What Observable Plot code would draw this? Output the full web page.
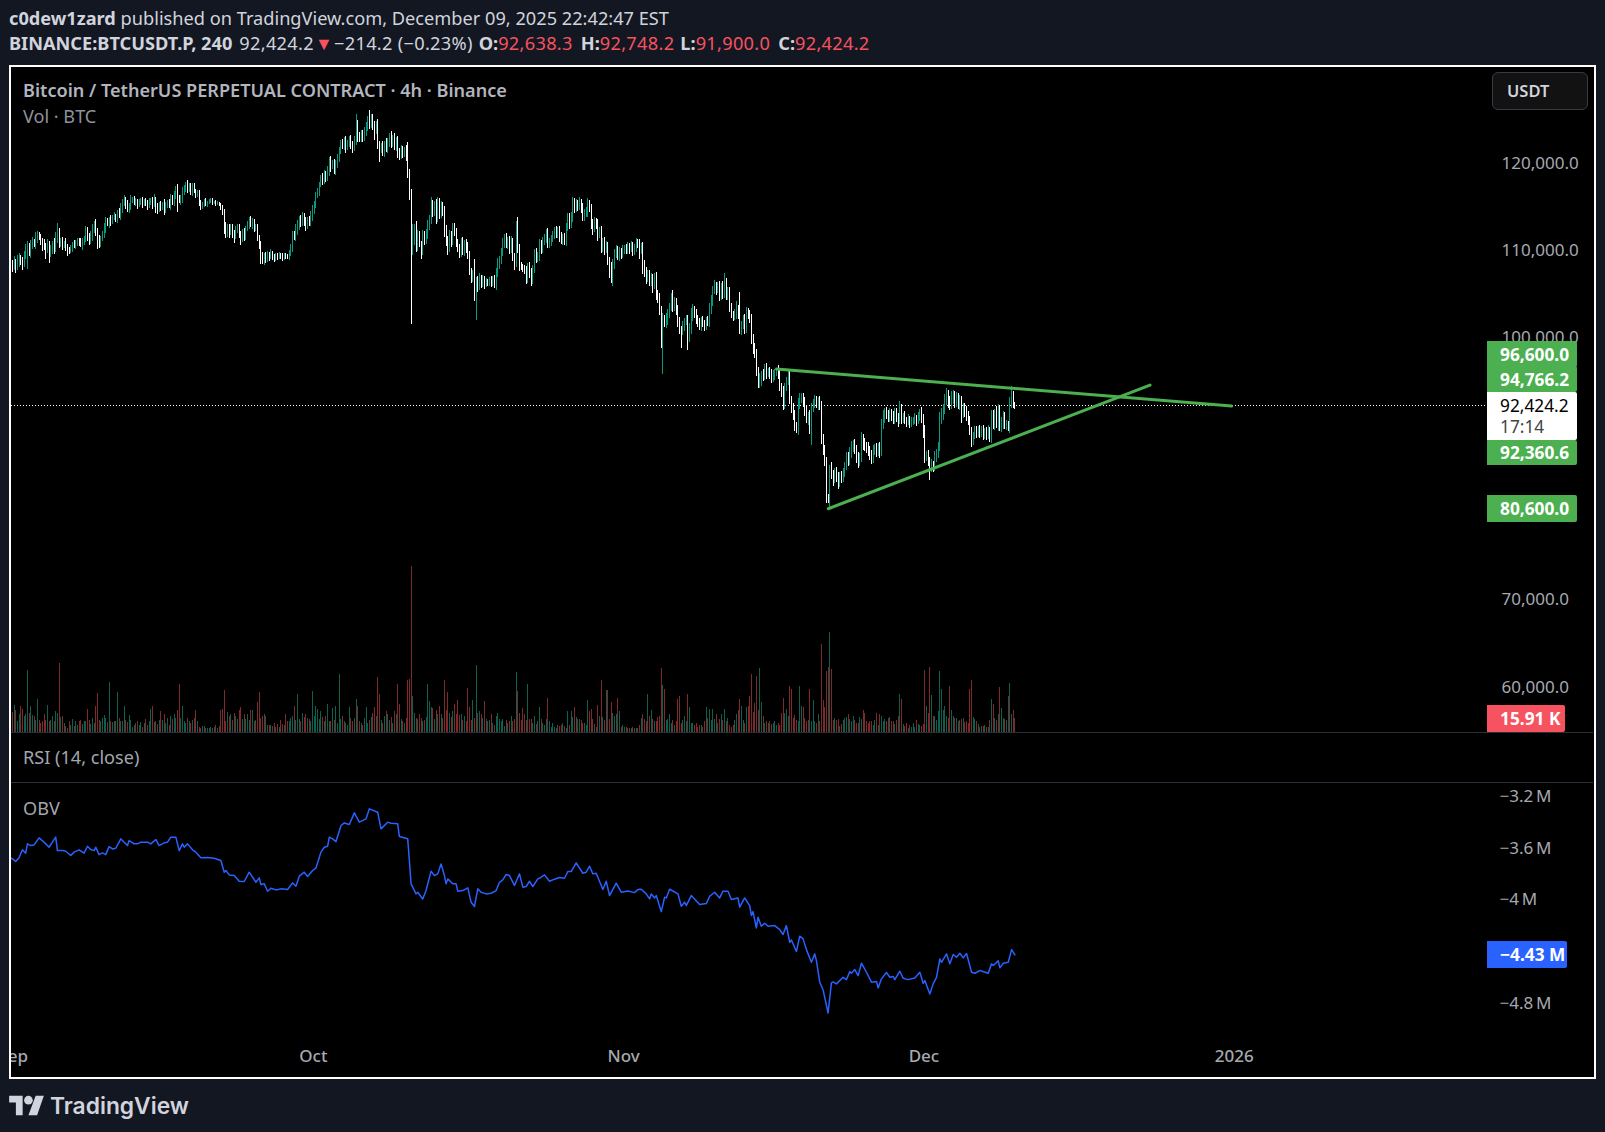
<!DOCTYPE html>
<html><head><meta charset="utf-8">
<script src="https://cdn.jsdelivr.net/npm/d3@7"></script>
<script src="https://cdn.jsdelivr.net/npm/@observablehq/plot@0.6"></script>
<style>
html,body{margin:0;padding:0;background:#131722}
#page{position:relative;width:1605px;height:1132px;background:#131722;overflow:hidden;font-family:"Noto Sans",sans-serif;color:#d1d4dc}
.abs{position:absolute;white-space:nowrap}
#frame{left:9px;top:65px;width:1583px;height:1010px;border:2px solid #fff;background:#000}
.pl{position:absolute;left:11px}
.pl svg,svg.pl{display:block;background:transparent}
.line{font-size:18.2px;left:9px;line-height:24px}
.line b{font-weight:700}
.r{color:#f7525f}
.n{letter-spacing:.3px}
.ttl{left:23px;font-size:18.1px;color:#b2b5be}
.tag{position:absolute;left:1487px;font-weight:700;font-size:17.3px;color:#fff;padding-left:13px;box-sizing:border-box;display:flex;align-items:center;border-radius:0 2px 2px 0}
.div{position:absolute;left:11px;width:1582px;height:1px;background:#2a2e39}
</style></head><body>
<div id="page">
<div class="abs line" style="top:6px"><b>c0dew1zard</b> published on TradingView.com, December 09, 2025 22:42:47 EST</div>
<div class="abs line n" style="top:31px"><b style="letter-spacing:0">BINANCE:BTCUSDT.P, 240</b><span style="margin-left:7px">92,424.2</span><span class="r" style="font-size:18px;line-height:18px;margin:0 1px 0 1px">▼</span>−214.2 (−0.23%)<b style="margin-left:6px;letter-spacing:0">O:</b><span class="r">92,638.3</span><b style="margin-left:8px;letter-spacing:0">H:</b><span class="r">92,748.2</span><b style="margin-left:6px;letter-spacing:0">L:</b><span class="r">91,900.0</span><b style="margin-left:8px;letter-spacing:0">C:</b><span class="r">92,424.2</span></div>
<div class="abs" id="frame"></div>
<div id="volHost"></div><div id="priceHost"></div><div id="obvHost"></div>
<div class="div" style="top:732px"></div><div class="div" style="top:782px"></div>
<div class="abs ttl" style="top:78px;font-weight:600">Bitcoin / TetherUS PERPETUAL CONTRACT · 4h · Binance</div>
<div class="abs ttl" style="top:104px;color:#8f929a">Vol · BTC</div>
<div class="abs ttl" style="top:745px;color:#a3a6ae">RSI (14, close)</div>
<div class="abs ttl" style="top:796px;color:#a3a6ae">OBV</div>
<div class="abs" style="left:1492px;top:72px;width:96px;height:38px;box-sizing:border-box;border:1px solid #363a45;border-radius:6px;background:#121212;font-size:16.5px;font-weight:600;line-height:36px;padding-left:14px">USDT</div>
<div class="tag" style="top:341px;height:26px;width:90px;background:#4caf50">96,600.0</div>
<div class="tag" style="top:366px;height:26px;width:90px;background:#4caf50">94,766.2</div>
<div class="tag" style="top:440px;height:25px;width:90px;background:#4caf50">92,360.6</div>
<div class="tag" style="top:392px;height:48px;width:90px;background:#fff;color:#000;font-weight:400;display:block;line-height:21px;padding-top:3px">92,424.2<br><span style="color:#444">17:14</span></div>
<div class="tag" style="top:495px;height:27px;width:90px;background:#4caf50">80,600.0</div>
<div class="tag" style="top:705px;height:27px;width:78px;background:#f7525f">15.91 K</div>
<div class="tag" style="top:941px;height:27px;width:80px;background:#2962ff">−4.43 M</div>
<div class="abs" style="left:9px;top:1092px;display:flex;align-items:center;gap:6px;color:#d1d4dc;font-family:Inter,'Noto Sans',sans-serif;font-weight:600;font-size:22.8px">
<svg width="35" height="27" viewBox="0 0 36 28" fill="#d1d4dc"><path d="M14 24H7V11H0V4h14v20zM29 24h-9l7.5-20h8.5L29 24z"/><circle cx="20" cy="8.5" r="4.5"/></svg><span>TradingView</span></div>
</div>
<script>
// closing price per 4h bar, thousand USD
const closes=[
108.6,108.2,108.9,108.3,108.8,109.3,109.0,108.6,109.4,110.0,
110.2,109.9,110.8,111.1,110.9,111.5,112.0,111.7,111.3,110.9,
110.7,110.2,110.8,109.9,110.3,110.9,110.5,111.4,112.3,111.0,
111.3,110.8,111.0,110.6,110.3,110.1,110.5,110.9,110.7,111.0,
111.3,111.1,110.8,111.2,111.6,112.3,111.8,111.4,112.0,112.6,
112.9,112.4,111.5,111.0,111.6,111.9,112.6,113.5,113.2,113.7,
113.5,113.9,114.1,113.8,114.5,114.2,114.9,115.6,116.0,115.5,
114.9,115.3,115.9,116.1,115.6,115.8,115.4,115.7,115.9,115.5,
115.8,115.6,115.3,115.7,115.9,115.5,116.0,115.2,114.9,115.4,
115.1,115.5,114.9,115.4,115.7,115.3,116.1,115.9,116.6,116.9,
116.3,115.8,116.1,116.9,117.3,117.7,117.1,117.6,116.9,117.5,
117.0,116.5,116.7,115.6,115.2,115.5,115.8,115.4,115.6,115.8,
115.9,115.6,115.7,115.5,115.6,115.4,115.1,114.6,112.9,112.2,
112.6,112.3,112.8,112.1,111.8,112.4,112.8,112.1,111.6,112.2,
111.8,112.6,113.1,113.6,113.2,113.4,112.7,112.9,111.7,110.9,
109.4,109.1,109.5,109.2,109.7,109.4,109.8,109.5,109.2,109.6,
109.3,109.6,109.5,109.2,109.6,109.4,109.3,109.9,110.4,112.0,
111.8,112.3,113.0,113.8,113.4,114.0,113.6,113.2,113.7,113.4,
114.1,114.7,115.5,116.5,116.9,117.8,118.5,118.2,118.9,118.6,
119.3,120.4,119.8,120.2,119.5,120.1,120.9,121.6,122.5,122.2,
122.6,122.1,122.4,122.9,122.3,122.0,122.6,123.9,123.3,123.0,
123.5,123.1,123.7,124.2,125.0,124.6,125.2,124.5,124.0,124.4,
122.3,121.7,122.0,121.4,122.2,121.8,122.5,123.2,122.6,122.9,
122.1,122.6,121.5,121.1,121.7,121.2,121.6,121.1,119.3,117.0,
109.9,111.2,112.7,110.6,111.9,110.9,109.9,111.9,111.3,112.0,
113.0,113.4,115.3,114.6,115.3,113.9,115.6,114.3,115.2,114.5,
112.6,111.2,110.4,111.9,111.1,112.8,112.2,111.0,110.4,109.9,
110.9,110.2,110.8,110.4,109.6,107.7,106.9,107.6,104.6,106.8,
106.2,107.0,106.3,106.9,106.2,106.6,106.4,106.8,106.3,106.9,
106.2,107.6,108.6,109.0,110.0,111.0,111.5,110.8,111.3,110.3,
111.2,109.3,108.4,113.0,110.5,108.3,108.2,108.0,107.9,106.9,
108.2,107.6,106.7,108.0,109.8,109.2,109.5,110.9,110.2,111.2,
111.4,112.2,110.9,111.0,111.5,111.9,112.4,112.0,112.4,111.6,
111.3,111.5,111.2,112.8,113.8,113.2,114.0,115.6,114.9,115.4,
115.1,115.6,115.0,114.0,114.4,114.6,115.3,115.0,113.2,112.7,
113.4,113.2,111.9,112.4,110.4,111.1,110.2,110.6,109.0,107.6,
106.5,108.6,109.8,110.0,109.4,110.0,109.7,110.2,110.4,110.1,
110.6,110.2,110.6,110.0,110.5,111.1,110.9,110.0,110.6,108.0,
107.6,106.9,107.4,106.6,106.9,106.1,107.1,104.9,104.6,103.3,
99.2,102.2,101.9,102.4,103.0,103.6,104.6,103.7,104.2,103.3,
102.0,101.0,100.9,101.5,102.0,102.1,100.1,101.0,102.6,103.3,
102.9,102.3,101.8,101.5,102.0,101.7,101.4,102.0,101.8,103.4,
104.2,105.6,106.0,105.6,106.1,104.9,106.0,105.2,106.4,105.0,
105.4,103.7,102.8,102.6,102.9,103.4,103.0,101.0,101.6,102.1,
101.3,103.0,102.7,102.3,100.0,98.7,98.3,96.4,94.9,95.5,
95.8,95.7,96.6,96.0,96.3,95.9,95.5,95.9,96.2,96.5,
95.9,94.5,93.8,92.5,94.4,95.2,95.7,92.9,92.1,91.2,
90.0,89.5,92.6,93.0,93.3,92.7,91.8,90.8,91.1,89.9,
92.0,92.6,93.0,92.5,92.8,92.4,88.5,87.3,85.9,81.5,
81.4,85.3,84.5,84.0,84.8,84.2,83.5,84.4,84.1,84.8,
85.5,86.5,86.1,87.0,87.5,87.9,87.4,86.6,85.9,86.4,
88.5,88.0,87.7,87.5,87.1,86.8,86.3,87.3,87.6,87.2,
87.7,87.0,90.2,91.0,91.6,91.4,91.0,91.6,91.2,90.8,
91.5,91.0,90.6,92.0,90.9,91.1,90.6,90.5,90.9,90.3,
90.6,90.7,90.9,90.6,91.1,91.4,90.9,89.5,86.5,86.7,
86.0,85.4,85.5,85.4,86.4,86.9,87.8,91.0,91.5,92.0,
92.9,93.5,92.9,92.6,93.2,93.5,92.7,93.2,92.5,92.9,
91.4,92.2,91.7,91.3,90.6,89.5,88.4,89.0,89.6,89.3,
89.7,89.3,89.6,89.0,89.5,89.0,89.6,88.9,91.2,90.3,
91.5,90.4,91.9,89.9,90.5,91.3,90.2,90.3,89.9,92.7,
94.0,92.64,92.42];
// wick above the body, hundred USD
const upperWicks=[
5,4,6,3,8,5,3,4,7,9,10,8,5,6,3,7,4,2,3,2,5,3,6,4,5,3,6,8,10,4,
3,4,2,5,3,2,3,2,4,3,2,3,4,3,2,6,5,3,4,5,6,8,3,4,2,5,7,4,3,2,
5,3,4,2,3,5,6,4,5,3,4,3,6,2,3,3,2,3,2,4,2,3,3,4,2,3,6,2,3,3,
4,2,5,3,2,3,5,4,3,6,8,2,4,5,3,3,5,2,3,3,3,2,3,4,3,2,2,3,2,2,
2,2,1,2,2,1,2,2,3,5,6,5,4,3,4,5,4,3,2,4,5,3,4,4,5,4,3,2,3,2,
3,6,3,4,4,3,5,3,2,2,2,3,2,3,2,2,3,3,5,3,4,8,6,3,4,5,4,3,3,4,
5,6,3,3,4,2,3,5,4,3,5,4,5,3,4,4,3,4,3,4,5,6,4,3,5,4,6,19,12,4,
4,4,6,6,5,12,6,5,4,6,8,3,4,6,5,8,5,4,6,5,7,5,6,4,5,4,4,6,14,2,
2,20,5,8,6,5,3,6,4,6,6,8,9,6,5,7,6,5,6,5,7,4,6,6,5,5,5,5,4,5,
6,8,5,6,7,5,4,3,16,3,4,5,3,4,3,4,3,3,4,3,4,5,7,5,4,6,5,6,4,5,
6,4,5,5,10,4,5,4,5,4,5,6,5,4,5,6,4,5,4,5,6,4,5,5,4,4,4,5,4,5,
6,5,6,5,6,6,5,7,5,6,5,6,4,6,5,5,8,6,4,5,6,4,5,4,5,5,6,6,5,4,
12,6,5,8,6,5,4,5,3,5,5,4,6,5,4,5,3,5,4,5,10,6,5,5,6,5,4,6,7,6,
5,8,5,6,4,5,6,10,6,5,6,5,5,5,4,6,6,8,9,7,5,5,4,6,5,6,5,5,6,7,
8,5,7,5,4,5,4,6,11,6,5,5,4,4,5,9,5,24,5,6,8,6,5,6,5,6,8,5,4,6,
5,7,5,6,4,5,6,5,4,2,5,6,4,8,6,4,7,8,5,6,6,5,6,8,5,5,6,5,5,7,
6,5,6,5,5,6,5,6,5,6,7,3,6,5,4,5,6,4,5,4,4,5,5,6,8,5,6,5,4,5,
8,6,7,5,7,6,5,5,4,5,4,5,6,8,5,6,5,5,4,5,6,6,5,9,5,4,6,4,5,3,
4,4,6,4,5,6,8,5,6,5,6,5,7,5,8,5,4,6,6,5,8,9,7,6,8,6,5,7,6,7,
6,5,5,6,4,6,4,3,4,4,3,4,4,5,3,4,5,3,7,6,5,8,6,5,6,4,3,4,3,6,
6,0,1];
// wick below the body, hundred USD
const lowerWicks=[
4,6,3,8,4,6,5,7,4,3,20,4,6,5,4,6,5,4,6,8,5,10,4,12,5,6,8,5,4,6,
5,6,4,5,8,4,3,5,3,4,4,5,3,6,4,5,6,7,5,8,5,6,12,6,5,4,4,5,3,5,
6,4,3,4,5,4,6,5,4,6,4,5,6,4,3,4,5,3,4,5,3,4,5,3,4,6,4,8,6,4,
5,3,7,5,4,3,5,6,7,6,18,3,5,6,4,5,4,3,4,5,3,4,3,4,5,3,4,2,3,2,
2,3,2,3,2,2,3,4,9,6,5,7,4,6,8,4,3,6,9,5,6,5,3,5,4,6,5,4,5,6,
8,5,6,5,4,5,3,5,4,3,3,2,3,3,2,3,2,3,4,5,5,6,4,5,6,5,7,8,6,5,
5,6,4,5,4,5,4,6,5,6,5,6,7,4,6,7,5,6,4,5,6,8,5,4,6,7,5,4,8,5,
5,6,4,5,4,6,4,6,12,5,6,15,4,5,6,4,5,5,7,6,5,6,8,6,5,5,4,7,9,11,
82,3,5,6,5,4,7,3,5,4,6,5,3,6,5,8,5,6,5,4,9,6,8,5,6,4,4,5,5,6,
5,6,7,6,5,4,5,4,3,24,8,6,5,4,5,3,4,3,4,3,4,6,5,6,4,5,6,4,5,6,
5,4,5,2,7,5,3,4,5,6,5,6,7,4,5,5,4,6,5,4,5,4,5,5,4,4,5,4,4,5,
4,5,4,6,5,6,5,6,5,4,5,4,6,5,5,4,6,5,6,8,5,6,7,4,6,5,6,4,5,6,
1,5,6,5,4,5,6,4,5,4,4,5,3,5,4,6,5,8,3,6,5,6,4,5,6,8,4,5,5,6,
2,32,5,7,8,6,4,6,5,6,6,5,20,5,6,4,14,5,5,6,5,6,4,5,6,4,5,4,3,5,
5,4,5,6,4,6,5,6,5,5,5,6,4,5,4,6,7,4,6,5,8,6,4,5,6,4,5,6,5,5,
9,5,4,6,4,5,5,4,6,5,5,5,5,7,5,4,5,4,6,5,6,3,5,6,4,5,6,4,7,8,
20,4,5,4,6,5,5,6,5,3,2,8,6,9,5,6,7,5,6,5,6,5,7,5,6,5,6,8,7,5,
5,7,5,6,5,7,6,5,6,7,6,6,4,5,6,6,5,5,6,5,6,5,7,3,6,5,4,6,4,5,
4,5,4,6,4,5,5,8,7,5,6,16,6,7,5,5,6,6,7,8,6,5,8,7,6,7,6,5,5,6,
10,5,6,7,5,5,8,6,5,6,5,6,5,6,5,6,5,7,8,6,7,6,9,5,6,8,5,6,4,7,
6,6,5];
// volume per bar, thousand BTC
const volumes=[
13,23,31,25,13,20,29,26,18,20,70,22,30,19,18,14,38,14,10,12,
20,14,31,12,14,18,13,24,22,78,17,18,10,7,5,12,8,15,7,12,
8,12,14,9,13,12,26,14,9,16,10,29,44,14,12,16,19,16,11,57,
12,11,12,12,45,16,12,13,29,14,11,19,14,6,8,10,12,8,11,6,
10,15,8,12,26,30,11,13,9,14,24,14,20,10,16,8,18,15,21,16,
25,54,16,29,12,10,16,13,10,14,16,25,12,6,5,7,7,5,5,4,
6,5,6,8,5,7,25,26,48,13,23,18,20,14,22,18,15,25,28,15,
21,15,20,14,25,25,12,14,34,45,16,18,20,18,8,8,8,7,10,6,
9,6,14,9,8,20,12,12,16,18,30,14,43,15,12,22,17,20,16,15,
12,47,18,30,26,15,24,17,12,18,32,12,12,27,14,30,10,66,15,18,
12,10,8,28,16,12,16,38,30,12,10,8,16,28,10,14,17,22,28,18,
63,43,14,10,18,24,20,14,17,10,24,20,55,32,15,12,10,16,59,60,
189,41,22,16,15,20,16,12,14,17,54,35,28,27,15,25,20,30,20,16,
59,25,45,22,17,24,32,20,36,19,20,14,18,12,50,28,14,36,16,76,
22,24,20,16,35,15,12,14,20,10,8,18,22,15,12,15,7,14,10,12,
18,12,15,68,47,22,14,27,20,14,54,15,15,10,18,9,13,28,15,10,
8,15,39,13,6,10,6,5,8,7,8,10,7,5,24,8,24,17,28,17,
15,15,14,10,10,8,36,24,26,15,9,6,31,18,59,17,14,48,48,15,
34,22,18,20,39,24,6,8,6,6,5,4,5,6,5,5,4,8,16,20,
15,12,43,18,25,15,12,12,17,18,73,53,49,14,15,20,10,14,8,12,
38,41,10,14,18,12,43,28,10,10,8,10,6,8,8,6,12,28,16,26,
14,26,15,20,10,15,20,14,26,12,16,8,6,8,14,20,25,38,30,14,
10,28,30,41,66,23,33,64,25,73,34,18,10,12,10,12,9,10,12,8,
10,8,22,39,22,26,18,52,49,16,19,14,12,52,30,28,16,12,14,49,
12,36,12,10,20,12,100,36,28,69,74,113,71,14,16,14,15,7,9,14,
16,17,20,15,13,18,14,10,10,17,15,25,22,12,10,12,12,8,14,22,
8,20,18,12,15,12,16,17,12,13,9,14,18,43,38,9,7,10,5,8,
6,10,6,14,9,8,7,9,70,30,22,74,42,18,18,14,24,69,49,25,
30,18,16,52,25,18,16,16,12,14,15,16,11,12,10,49,59,17,15,12,
9,6,7,7,8,6,6,14,38,32,16,14,20,51,27,16,15,14,41,56,
20,25,16];
// OBV readings: bar number and value in thousands
const obvBars=[0,2,3,5,7,9,10,12,14,17,20,21,23,25,27,28,31,33,36,38,41,44,46,48,50,51,53,55,57,59,61,63,66,68,70,71,74,76,78,82,84,87,89,92,94,96,99,101,103,104,106,109,111,114,118,122,126,128,129,131,134,137,140,143,147,149,150,152,154,156,159,162,166,169,171,173,176,178,181,183,186,188,190,191,193,195,198,200,203,206,209,213,215,220,222,226,228,232,233,238,239,240,243,244,247,249,252,254,256,258,260,261,262,265,267,268,271,274,276,278,280,282,285,288,291,293,295,297,299,302,305,307,309,311,313,316,
318,320,323,326,329,332,334,336,339,343,345,347,349,351,355,357,359,363,366,370,374,376,378,381,383,384,386,387,390,392,393,395,400,402,404,405,408,413,417,419,422,425,427,430,432,436,437,440,443,444,445,447,448,450,452,454,458,461,463,465,467,468,471,473,475,477,480,482,483,485,487,490,492,493,495,499,501,503,504,506,508,510,513,516,519,520,522,525,527,529,530,533,535,538,542,545,547,548,551,553,555,557,558,561,563,565,567,569,571,573,576,578,581,586,588,589,592,593,595,598,600,602];
const obvValues=[-3670,-3686,-3699,-3670,-3608,-3634,-3562,-3575,-3570,-3516,-3549,-3562,-3588,-3549,-3510,-3614,-3614,-3619,-3652,-3626,-3608,-3634,-3580,-3606,-3614,-3588,-3645,-3632,-3645,-3583,-3601,-3596,-3523,-3549,-3575,-3536,-3562,-3562,-3549,-3549,-3562,-3528,-3575,-3554,-3549,-3510,-3510,-3614,-3562,-3588,-3562,-3608,-3626,-3670,-3668,-3673,-3691,-3781,-3768,-3802,-3807,-3851,-3853,-3781,-3859,-3825,-3877,-3871,-3928,-3905,-3918,-3910,-3915,-3864,-3890,-3812,-3781,-3815,-3768,-3748,-3626,-3588,-3580,-3510,-3523,-3544,-3420,-3400,-3412,-3322,-3394,-3369,-3291,-3317,-3446,-3394,-3402,-3407,-3505,-3523,-3691,-3871,-3949,-3936,-3988,-3923,-3773,-3807,-3794,-3717,-3807,-3871,-3833,-3871,-3871,-3928,-3923,-3902,-4013,-4047,-3910,-3936,-3949,-3944,-3923,-3859,-3841,-3799,-3807,-3884,-3794,-3897,-3892,-3851,-3892,-3833,
-3820,-3802,-3851,-3835,-3822,-3828,-3776,-3776,-3709,-3789,-3781,-3735,-3794,-3789,-3915,-3851,-3962,-3866,-3936,-3926,-3939,-3915,-3913,-3949,-3988,-3949,-3980,-3962,-4086,-3975,-3980,-3913,-3949,-4044,-4013,-4039,-3962,-4031,-4024,-3967,-3936,-3980,-3928,-3928,-3993,-3980,-4052,-3980,-4039,-4116,-4086,-4212,-4129,-4199,-4176,-4199,-4194,-4225,-4263,-4194,-4323,-4305,-4395,-4276,-4297,-4380,-4478,-4413,-4465,-4632,-4692,-4870,-4637,-4630,-4645,-4594,-4612,-4550,-4563,-4534,-4581,-4485,-4555,-4632,-4627,-4676,-4606,-4557,-4594,-4588,-4612,-4547,-4601,-4612,-4599,-4555,-4640,-4619,-4723,-4645,-4594,-4452,-4478,-4413,-4490,-4418,-4439,-4408,-4444,-4410,-4555,-4563,-4542,-4563,-4490,-4503,-4467,-4521,-4485,-4478,-4380,-4421];
const priceTicks=[60000,70000,100000,110000,120000];
const obvTicks=[-3.2e6,-3.6e6,-4e6,-4.8e6];
const monthTicks=[["2025-09-01","Sep"],["2025-10-01","Oct"],["2025-11-01","Nov"],["2025-12-01","Dec"],["2026-01-01","2026"]];
const lastPrice=92424.2;
const trendTop=[{bar:459.1,p:96600},{bar:731.9,p:92360.6}];
const trendBottom=[{bar:490.1,p:80600},{bar:683,p:94766.2}];

const FONT='"Noto Sans",sans-serif';
const t0=Date.UTC(2025,7,31,12), H4=4*3600e3;
const barTime=k=>new Date(t0+k*H4);
const xDomain=[barTime(0.48),barTime(885.3)];
const bars=closes.map((c,i)=>{
  const close=c*1000, open=(i?closes[i-1]:108.7)*1000;
  return {t:barTime(i),open,close,up:close>=open,
    high:Math.max(open,close)+(upperWicks[i]??0)*100,
    low:Math.min(open,close)-(lowerWicks[i]??0)*100,
    vol:(volumes[i]??0)*1000};
});
const ups=bars.filter(d=>d.up), downs=bars.filter(d=>!d.up);
const common={width:1582,marginLeft:0,marginRight:106,marginTop:0,marginBottom:0,
  style:{background:"transparent",fontFamily:FONT,display:"block"}};
const GREEN="#089981",WHITE="#ffffff",LINE="#4caf50",AXIS="#a6a9b1";
const crisp={shapeRendering:"crispEdges"};

const volPlot=Plot.plot({...common,height:665,
  x:{domain:xDomain,axis:null},y:{domain:[0,755000],axis:null},
  marks:[
    Plot.ruleX(ups,{x:"t",y1:0,y2:"vol",stroke:"#0f5f50",strokeWidth:1,...crisp}),
    Plot.ruleX(downs,{x:"t",y1:0,y2:"vol",stroke:"#7f2a2a",strokeWidth:1,...crisp})
  ]});
const pricePlot=Plot.plot({...common,height:665,
  x:{domain:xDomain,axis:null},y:{domain:[54980,131130],axis:null},
  marks:[
    Plot.axisY(priceTicks,{anchor:"right",tickSize:0,tickPadding:14,textAnchor:"start",label:null,dy:-1.5,
      tickFormat:d=>d3.format(",.1f")(d),fontSize:17,color:AXIS}),
    Plot.ruleY([lastPrice],{stroke:"#fff",strokeDasharray:"1 2",strokeWidth:1}),
    Plot.ruleX(ups,{x:"t",y1:"low",y2:"high",stroke:GREEN,strokeWidth:1,...crisp}),
    Plot.ruleX(ups,{x:"t",y1:"open",y2:"close",stroke:GREEN,strokeWidth:1,...crisp}),
    Plot.ruleX(downs,{x:"t",y1:"low",y2:"high",stroke:WHITE,strokeWidth:1,...crisp}),
    Plot.ruleX(downs,{x:"t",y1:"open",y2:"close",stroke:WHITE,strokeWidth:1,...crisp}),
    Plot.line(trendTop,{x:d=>barTime(d.bar),y:"p",stroke:LINE,strokeWidth:3}),
    Plot.line(trendBottom,{x:d=>barTime(d.bar),y:"p",stroke:LINE,strokeWidth:3})
  ]});
const obvData=obvBars.map((b,i)=>({t:barTime(b),v:obvValues[i]*1000}));
const mTicks=monthTicks.map(d=>new Date(d[0]+"T00:00:00Z"));
const mLabel=new Map(mTicks.map((d,i)=>[+d,monthTicks[i][1]]));
const obvPlot=Plot.plot({...common,height:293,marginBottom:40,
  x:{domain:xDomain,axis:null},y:{domain:[-5052000,-3095000],axis:null},
  marks:[
    Plot.axisY(obvTicks,{anchor:"right",tickSize:0,tickPadding:12,textAnchor:"start",label:null,dy:-.5,
      tickFormat:d=>"−"+d3.format("~r")(Math.abs(d)/1e6)+"\u2009M",fontSize:17,color:AXIS}),
    Plot.axisX(mTicks,{anchor:"bottom",tickSize:0,tickPadding:13,label:null,dx:-2.6,
      tickFormat:d=>mLabel.get(+d),fontSize:17,fontWeight:500,color:AXIS}),
    Plot.line(obvData,{x:"t",y:"v",stroke:"#2962ff",strokeWidth:1.5})
  ]});
const place=(host,svg,top)=>{svg.classList.add("pl");svg.style.position="absolute";svg.style.left="11px";svg.style.top=top+"px";
  document.getElementById(host).appendChild(svg);};
place("volHost",volPlot,67);place("priceHost",pricePlot,67);place("obvHost",obvPlot,783);
</script>
</body></html>
